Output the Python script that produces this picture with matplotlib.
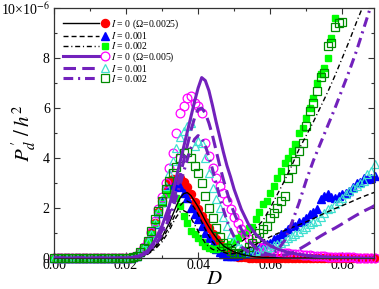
import numpy as np
import matplotlib
matplotlib.use('Agg')
import matplotlib.pyplot as plt
from matplotlib.lines import Line2D
from matplotlib.legend_handler import HandlerBase
from matplotlib.ticker import MultipleLocator

plt.rcParams['font.family'] = ['Liberation Serif', 'DejaVu Serif']
plt.rcParams['mathtext.fontset'] = 'stix'
plt.rcParams['lines.scale_dashes'] = False

nan = np.nan

# D grid for the simulation points (0.000 ... 0.089)
D = [0.000, 0.001, 0.002, 0.003, 0.004, 0.005, 0.006, 0.007, 0.008, 0.009,
     0.010, 0.011, 0.012, 0.013, 0.014, 0.015, 0.016, 0.017, 0.018, 0.019,
     0.020, 0.021, 0.022, 0.023, 0.024, 0.025, 0.026, 0.027, 0.028, 0.029,
     0.030, 0.031, 0.032, 0.033, 0.034, 0.035, 0.036, 0.037, 0.038, 0.039,
     0.040, 0.041, 0.042, 0.043, 0.044, 0.045, 0.046, 0.047, 0.048, 0.049,
     0.050, 0.051, 0.052, 0.053, 0.054, 0.055, 0.056, 0.057, 0.058, 0.059,
     0.060, 0.061, 0.062, 0.063, 0.064, 0.065, 0.066, 0.067, 0.068, 0.069,
     0.070, 0.071, 0.072, 0.073, 0.074, 0.075, 0.076, 0.077, 0.078, 0.079,
     0.080, 0.081, 0.082, 0.083, 0.084, 0.085, 0.086, 0.087, 0.088, 0.089]

ZERO20 = [0.0] * 20

# Omega = 0.0025 (filled symbols), values in units of 1e-6
P_RED = ZERO20 + [
    0.01, 0.02, 0.05, 0.1, 0.25, 0.45, 0.7, 1.0, 1.4, 1.85,
    2.3, 2.75, 3.05, 3.15, 3.1, 3.2, 3.05, 2.85, 2.55, 2.25,
    1.95, 1.7, 1.45, 1.2, 0.95, 0.75, 0.55, 0.4, 0.28, 0.18,
    0.1, 0.06, 0.04, 0.03, 0.02, 0.02, 0.01, 0.01, 0.01, 0.01,
    0.01, 0.01, 0.01, 0.0, 0.0, 0.0, 0.0, 0.0, 0.0, 0.0,
    0.0, 0.0, 0.0, 0.0, 0.0, 0.0, 0.0, 0.0, 0.0, 0.0,
    0.0, 0.0, 0.0, 0.0, 0.0, 0.0, 0.0, 0.0, 0.0, 0.0]
P_BLUE = ZERO20 + [
    0.01, 0.02, 0.05, 0.1, 0.25, 0.42, 0.65, 0.95, 1.35, 1.8,
    2.25, 2.6, 2.8, 2.9, 2.95, 2.85, 2.6, 2.4, 2.0, 1.75,
    1.55, 1.3, 1.0, 0.8, 0.55, 0.35, 0.25, 0.15, 0.1, 0.08,
    0.1, 0.12, 0.15, 0.2, 0.25, 0.3, 0.35, 0.42, 0.48, 0.55,
    0.62, 0.75, 0.8, 0.95, 1.05, 1.15, 1.35, 1.3, 1.45, 1.5,
    1.6, 1.75, 1.85, 1.95, 2.35, 2.5, 2.55, 2.45, 2.4, 2.5,
    2.55, 2.6, 2.7, 2.85, 3.0, 3.05, 3.2, 3.15, 3.2, 3.3]
P_LIME = ZERO20 + [
    0.01, 0.02, 0.05, 0.1, 0.25, 0.42, 0.65, 0.95, 1.35, 1.8,
    2.2, 2.55, 2.6, 2.5, 2.4, 2.1, 1.7, 1.4, 1.1, 0.95,
    0.8, 0.65, 0.5, 0.4, 0.35, 0.35, 0.4, 0.45, 0.5, 0.55,
    0.65, 0.8, 0.95, 1.0, 1.2, 1.25, 1.55, 1.85, 2.15, 2.3,
    2.6, 2.9, 3.2, 3.5, 3.8, 4.0, 4.3, 4.55, 5.0, 5.2,
    5.6, 6.0, 6.4, 7.0, 7.35, 7.6, 8.0, 8.8, 9.6, nan,
    nan, nan, nan, nan, nan, nan, nan, nan, nan, nan]

# Omega = 0.005 (open symbols)
P_MAGENTA = ZERO20 + [
    0.01, 0.02, 0.05, 0.1, 0.25, 0.45, 0.7, 1.05, 1.5, 1.95,
    2.45, 3.0, 3.6, 4.2, 5.0, 5.8, 6.1, 6.4, 6.5, 6.2,
    6.1, 5.8, 4.6, 4.1, 3.6, 3.2, 2.9, 2.6, 2.3, 1.95,
    1.65, 1.4, 1.15, 0.95, 0.75, 0.6, 0.5, 0.45, 0.4, 0.35,
    0.3, 0.28, 0.25, 0.22, 0.2, 0.2, 0.18, 0.16, 0.15, 0.14,
    0.12, 0.11, 0.1, 0.09, 0.08, 0.07, 0.06, 0.05, 0.05, 0.04,
    0.04, 0.03, 0.03, 0.03, 0.02, 0.02, 0.02, 0.02, 0.02, 0.02]
P_TURQ = ZERO20 + [
    0.01, 0.02, 0.05, 0.1, 0.25, 0.42, 0.65, 0.95, 1.4, 1.85,
    2.35, 2.9, 3.4, 3.9, 4.4, 4.85, 5.1, 5.3, 5.4, 4.5,
    4.7, 4.6, 4.0, 3.4, 2.8, 2.35, 2.0, 1.65, 1.3, 0.95,
    0.7, 0.5, 0.4, 0.3, 0.25, 0.25, 0.28, 0.32, 0.38, 0.42,
    0.45, 0.52, 0.58, 0.62, 0.7, 0.8, 0.9, 0.95, 1.05, 1.15,
    1.25, 1.35, 1.45, 1.5, 1.65, 1.8, 1.95, 2.0, 2.15, 2.3,
    2.4, 2.55, 2.7, 2.8, 2.9, 3.0, 3.1, 3.35, 3.5, 3.75]
P_DKGREEN = ZERO20 + [
    0.01, 0.02, 0.05, 0.1, 0.25, 0.42, 0.7, 1.1, 1.55, 1.9,
    2.3, 2.75, 3.1, 3.4, 3.65, 4.0, 4.2, 4.25, 4.0, 3.7,
    3.4, 3.0, 2.5, 2.0, 1.6, 1.2, 0.85, 0.6, 0.4, 0.3,
    0.2, 0.15, 0.2, 0.3, 0.45, 0.6, 0.8, 1.0, 1.15, 1.3,
    1.6, 1.8, 2.0, 2.3, 2.5, 3.2, 3.55, 3.9, 4.3, 4.6,
    5.3, 5.9, 6.2, 6.7, 7.25, 7.4, 8.5, 8.6, 9.25, 9.4,
    9.45, nan, nan, nan, nan, nan, nan, nan, nan, nan]

# model curves
D_LINE = [0.000, 0.010, 0.020, 0.022, 0.024, 0.026, 0.028, 0.030, 0.032,
          0.033, 0.034, 0.035, 0.036, 0.037, 0.038, 0.039, 0.040, 0.041,
          0.042, 0.043, 0.044, 0.045, 0.046, 0.047, 0.048, 0.049, 0.050,
          0.052, 0.054, 0.056, 0.058, 0.060, 0.062, 0.064, 0.066, 0.068,
          0.070, 0.072, 0.074, 0.076, 0.078, 0.080, 0.082, 0.084, 0.086,
          0.088, 0.089]
L_BLACK_0 = [0, 0, 0, 0.02, 0.07, 0.2, 0.45, 0.85, 1.4,
             1.75, 2.1, 2.4, 2.58, 2.62, 2.5, 2.28, 2.05, 1.78,
             1.5, 1.25, 1.02, 0.82, 0.65, 0.5, 0.4, 0.32, 0.25,
             0.15, 0.09, 0.05, 0.03, 0.02, 0.01, 0, 0, 0,
             0, 0, 0, 0, 0, 0, 0, 0, 0,
             0, 0]
L_BLACK_1 = [0, 0, 0, 0.02, 0.06, 0.17, 0.4, 0.75, 1.25,
             1.55, 1.85, 2.1, 2.25, 2.28, 2.2, 2.0, 1.75, 1.45,
             1.15, 0.88, 0.65, 0.47, 0.33, 0.24, 0.19, 0.17, 0.18,
             0.26, 0.4, 0.55, 0.7, 0.85, 0.98, 1.1, 1.22, 1.33,
             1.45, 1.58, 1.72, 1.85, 1.98, 2.1, 2.22, 2.35, 2.47,
             2.58, 2.63]
L_BLACK_2 = [0, 0, 0, 0.02, 0.05, 0.15, 0.35, 0.65, 1.1,
             1.4, 1.65, 1.85, 1.9, 1.82, 1.6, 1.35, 1.08, 0.82,
             0.6, 0.45, 0.35, 0.3, 0.28, 0.3, 0.35, 0.42, 0.5,
             0.65, 0.9, 1.2, 1.5, 2.0, 2.55, 3.1, 3.7, 4.35,
             4.9, 5.45, 6.05, 6.65, 7.3, 8.0, 8.7, 9.45, 10.15,
             10.85, 11.2]
L_PURPLE_0 = [0, 0, 0, 0.03, 0.1, 0.3, 0.7, 1.3, 2.1,
              2.65, 3.25, 3.85, 4.45, 5.05, 5.65, 6.25, 6.8, 7.22,
              7.1, 6.7, 6.1, 5.45, 4.85, 4.25, 3.7, 3.25, 2.75,
              1.95, 1.35, 0.95, 0.7, 0.5, 0.36, 0.27, 0.2, 0.15,
              0.11, 0.08, 0.06, 0.04, 0.03, 0.02, 0.01, 0.01, 0,
              0, 0]
L_PURPLE_1 = [0, 0, 0, 0.03, 0.09, 0.25, 0.6, 1.1, 1.8,
              2.25, 2.75, 3.3, 3.9, 4.5, 5.1, 5.6, 5.95, 6.0,
              5.8, 5.4, 4.9, 4.3, 3.7, 3.15, 2.65, 2.2, 1.8,
              1.15, 0.7, 0.4, 0.22, 0.13, 0.1, 0.12, 0.2, 0.35,
              0.52, 0.7, 0.88, 1.05, 1.2, 1.37, 1.55, 1.72, 1.88,
              2.02, 2.1]
L_PURPLE_2 = [0, 0, 0, 0.02, 0.08, 0.22, 0.5, 0.95, 1.6,
              2.0, 2.45, 2.95, 3.45, 3.95, 4.4, 4.75, 4.9, 4.8,
              4.5, 4.05, 3.55, 3.0, 2.45, 1.95, 1.5, 1.15, 0.85,
              0.45, 0.25, 0.15, 0.12, 0.15, 0.3, 0.7, 1.4, 2.2,
              3.1, 3.9, 4.6, 5.3, 6.0, 6.75, 7.5, 8.3, 9.2,
              10.1, 10.5]

LABELS = [r'$I$ = 0 (Ω=0.0025)', r'$I$ = 0.001', r'$I$ = 0.002',
          r'$I$ = 0 (Ω=0.005)', r'$I$ = 0.001', r'$I$ = 0.002']

INDIGO = '#7221bc'


class LineThenMarker(HandlerBase):
    # legend entry: line segment followed by the symbol, like in xmgrace
    def create_artists(self, legend, orig_handle, xdescent, ydescent,
                       width, height, fontsize, trans):
        line, mark = orig_handle
        x0 = -xdescent
        y = (height - ydescent) / 2
        l = Line2D([x0, x0 + 0.80 * width], [y, y])
        self.update_prop(l, line, legend)
        l.set_transform(trans)
        m = Line2D([x0 + 0.93 * width], [y])
        self.update_prop(m, mark, legend)
        m.set_linestyle('none')
        m.set_transform(trans)
        return [l, m]


fig = plt.figure(figsize=(3.79, 2.89), dpi=100)
ax = fig.add_axes([0.1425, 0.107, 0.845, 0.865])

mk = dict(linestyle='none', clip_on=False, zorder=2)
m_red = ax.plot(D, P_RED, marker='o', ms=5.8, color='#ff0000', mec='#ff0000', **mk)[0]
m_blue = ax.plot(D, P_BLUE, marker='^', ms=5.8, color='#0000ff', mec='#0000ff', **mk)[0]
m_lime = ax.plot(D, P_LIME, marker='s', ms=5.0, color='#00ff00', mec='#00ff00', **mk)[0]
m_mag = ax.plot(D, P_MAGENTA, marker='o', ms=6.3, mfc='none', mec='#ff00ff', mew=0.9, **mk)[0]
m_turq = ax.plot(D, P_TURQ, marker='^', ms=6.3, mfc='none', mec='#40e0d0', mew=0.9, **mk)[0]
m_dkg = ax.plot(D, P_DKGREEN, marker='s', ms=5.4, mfc='none', mec='#008b00', mew=0.9, **mk)[0]

l_b0 = ax.plot(D_LINE, L_BLACK_0, color='black', lw=1.0, zorder=3)[0]
l_b1 = ax.plot(D_LINE, L_BLACK_1, color='black', lw=1.0, dashes=(3.6, 2.2), zorder=3)[0]
l_b2 = ax.plot(D_LINE, L_BLACK_2, color='black', lw=1.0,
               dashes=(3.6, 2.0, 0.8, 2.0), zorder=3)[0]
l_p0 = ax.plot(D_LINE, L_PURPLE_0, color=INDIGO, lw=2.2, zorder=3)[0]
l_p1 = ax.plot(D_LINE, L_PURPLE_1, color=INDIGO, lw=2.2, dashes=(9.0, 4.5), zorder=3)[0]
l_p2 = ax.plot(D_LINE, L_PURPLE_2, color=INDIGO, lw=2.2,
               dashes=(7.0, 3.5, 1.5, 3.5), zorder=3)[0]

handles = [(l_b0, m_red), (l_b1, m_blue), (l_b2, m_lime),
           (l_p0, m_mag), (l_p1, m_turq), (l_p2, m_dkg)]
ax.legend(handles, LABELS, handler_map={tuple: LineThenMarker()},
          loc='upper left', bbox_to_anchor=(0.028, 0.962), frameon=False,
          fontsize=7, handlelength=4.6, handletextpad=0.3, labelspacing=-0.1,
          borderpad=0, borderaxespad=0)

ax.set_xlim(0, 0.0889)
ax.set_ylim(0, 10)
ax.set_xticks([0.0, 0.02, 0.04, 0.06, 0.08])
ax.set_xticklabels(['0.00', '0.02', '0.04', '0.06', '0.08'])
ax.xaxis.set_minor_locator(MultipleLocator(0.01))
ax.set_yticks([0, 2, 4, 6, 8, 10])
ax.set_yticklabels(['0', '2', '4', '6', '8', r'10×10$^{-6}$'])
ax.yaxis.set_minor_locator(MultipleLocator(1))
ax.tick_params(which='both', direction='in', top=True, right=True,
               labelsize=10, width=0.8, color='#333333')
ax.tick_params(which='major', length=4)
ax.tick_params(which='minor', length=2.5)
ax.tick_params(axis='x', pad=1)
ax.tick_params(axis='y', pad=3)
for s in ax.spines.values():
    s.set_linewidth(0.9)
    s.set_color('#333333')

ax.set_xlabel(r'$D$', fontsize=15, labelpad=-2)
ax.set_ylabel(r"$P^{\,\prime}_{d}\ /\,h^{2}$", fontsize=15)
ax.yaxis.set_label_coords(-0.05, 0.5)

fig.savefig('out.png', dpi=100)
